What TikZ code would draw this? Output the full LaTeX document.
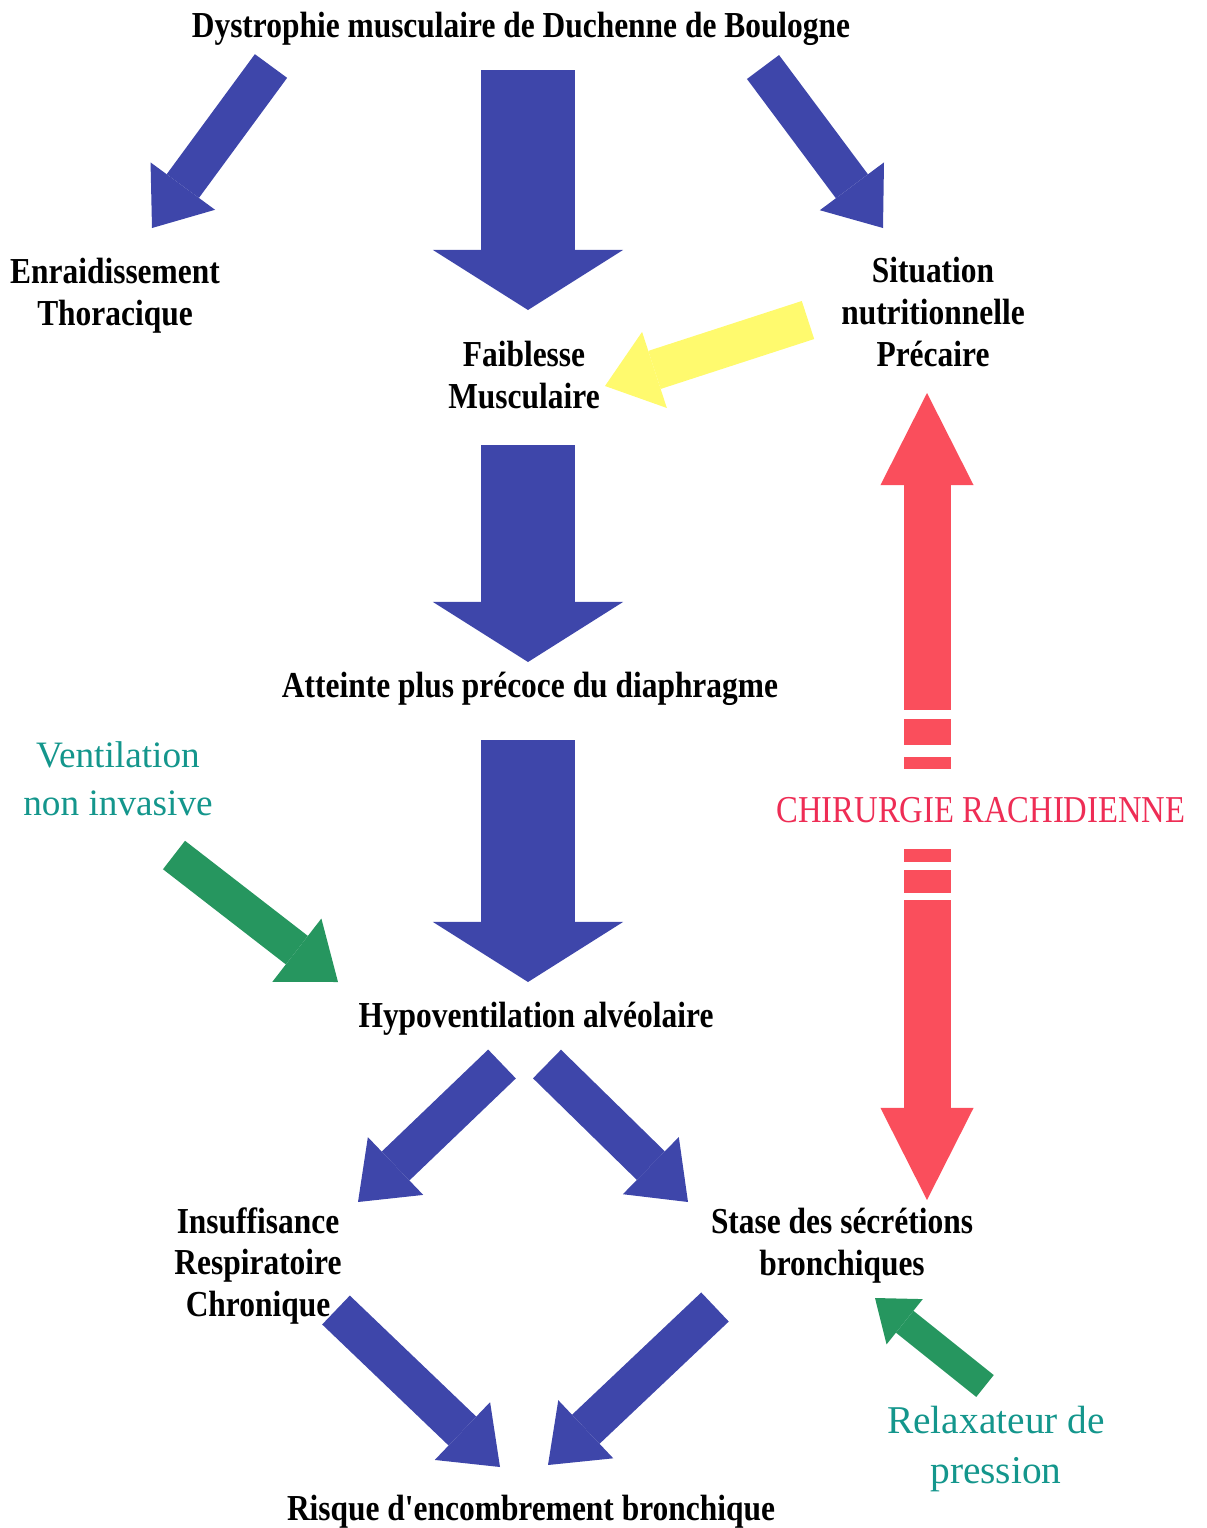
\documentclass[tikz,border=0pt]{standalone}
\usepackage{fontspec}
\setmainfont{Liberation Serif}
\newfontfamily\narrowserif[FakeStretch=0.86]{Liberation Serif}
\usetikzlibrary{arrows.meta}

\definecolor{flowblue}{RGB}{62,70,170}
\definecolor{nutriyellow}{RGB}{255,250,110}
\definecolor{vnigreen}{RGB}{38,150,95}
\definecolor{teallabel}{RGB}{20,150,140}
\definecolor{surgred}{RGB}{250,78,92}
\definecolor{surgtext}{RGB}{238,45,85}

\begin{document}
\begin{tikzpicture}[
		x=0.025cm, y=-0.025cm,
		every node/.style={inner sep=0pt, align=center},
		cause/.style={font=\narrowserif\bfseries\fontsize{26pt}{29.8pt}\selectfont},
		therapy/.style={font=\fontsize{26.5pt}{34pt}\selectfont, text=teallabel},
		surg/.style={font=\narrowserif\fontsize{27pt}{30pt}\selectfont, text=surgtext},
		bigflow/.style={line width=2.325cm, -{Triangle[length=1.5cm, width=4.75cm, line width=0pt]}},
		flow/.style={line width=1cm, -{Triangle[length=1.3cm, width=2cm, line width=0pt]}},
		smallflow/.style={line width=0.7cm, -{Triangle[length=0.95cm, width=1.45cm, line width=0pt]}},
		surgery/.style={color=surgred, line width=1.175cm,
			{Triangle[length=2.3cm, width=2.325cm, line width=0pt]}-{Triangle[length=2.3cm, width=2.325cm, line width=0pt]},
			dash pattern=on 160.05pt off 6.4pt on 18.49pt off 8.54pt on 8.54pt off 56.91pt on 9.25pt off 5.69pt on 16.36pt off 4.98pt on 220pt}
		]
		\useasboundingbox (0,0) rectangle (1207,1528);
		
		% --- Texts ---
		\node[cause] (dmd) at (521,29) {Dystrophie musculaire de Duchenne de Boulogne};
		\node[cause] (thorax) at (115,296) {Enraidissement\\Thoracique};
		\node[cause] (nutri) at (933,312) {Situation\\nutritionnelle\\Précaire};
		\node[cause] (faib) at (524,375) {Faiblesse\\Musculaire};
		\node[cause] (diaph) at (530,689) {Atteinte plus précoce du diaphragme};
		\node[therapy] (vni) at (118,779) {Ventilation\\non invasive};
		\node[surg] (chir) at (981,810) {CHIRURGIE RACHIDIENNE};
		\node[cause] (hypo) at (536,1019) {Hypoventilation alvéolaire};
		\node[cause] (iresp) at (258,1266) {Insuffisance\\Respiratoire\\Chronique};
		\node[cause] (stase) at (842,1246) {Stase des sécrétions\\bronchiques};
		\node[therapy, font=\fontsize{28pt}{36pt}\selectfont] (relax) at (996,1449) {Relaxateur de\\pression};
		\node[cause] (encomb) at (531,1512) {Risque d'encombrement bronchique};
		
		% --- Arrow ends ---
		\coordinate (dmd-l) at (271,66);      \coordinate (thorax-in) at (152,228);
		\coordinate (dmd-r) at (763,67);      \coordinate (nutri-in) at (883,228);
		\coordinate (dmd-c) at (528,70);      \coordinate (faib-in) at (528,310);
		\coordinate (faib-out) at (528,445);  \coordinate (diaph-in) at (528,662);
		\coordinate (diaph-out) at (528,740); \coordinate (hypo-in) at (528,982);
		\coordinate (nutri-out) at (808,320); \coordinate (faib-side) at (605,386);
		\coordinate (vni-out) at (174,855);   \coordinate (hypo-side) at (338,982);
		\coordinate (hypo-l) at (502,1064);   \coordinate (iresp-in) at (358,1202);
		\coordinate (hypo-r) at (547,1064);   \coordinate (stase-in) at (688,1202);
		\coordinate (iresp-out) at (336,1310); \coordinate (encomb-l) at (500,1467);
		\coordinate (stase-out) at (715,1307); \coordinate (encomb-r) at (548,1465);
		\coordinate (relax-out) at (985,1386); \coordinate (stase-side) at (875,1298);
		\coordinate (nutri-low) at (927,393); \coordinate (stase-up) at (927,1200);
		
		% --- Main chain ---
		\draw[flow, flowblue] (dmd-l) -- (thorax-in);
		\draw[flow, flowblue] (dmd-r) -- (nutri-in);
		\draw[bigflow, flowblue] (dmd-c) -- (faib-in);
		\draw[bigflow, flowblue] (faib-out) -- (diaph-in);
		\draw[bigflow, flowblue] (diaph-out) -- (hypo-in);
		\draw[flow, flowblue] (hypo-l) -- (iresp-in);
		\draw[flow, flowblue] (hypo-r) -- (stase-in);
		\draw[flow, flowblue] (iresp-out) -- (encomb-l);
		\draw[flow, flowblue] (stase-out) -- (encomb-r);
		
		% --- Side influences ---
		\draw[flow, nutriyellow] (nutri-out) -- (faib-side);
		\draw[flow, vnigreen, line width=0.9cm] (vni-out) -- (hypo-side);
		\draw[smallflow, vnigreen] (relax-out) -- (stase-side);
		
		% --- Surgery (broken round its label) ---
		\draw[surgery] (nutri-low) -- (stase-up);
\end{tikzpicture}
\end{document}
